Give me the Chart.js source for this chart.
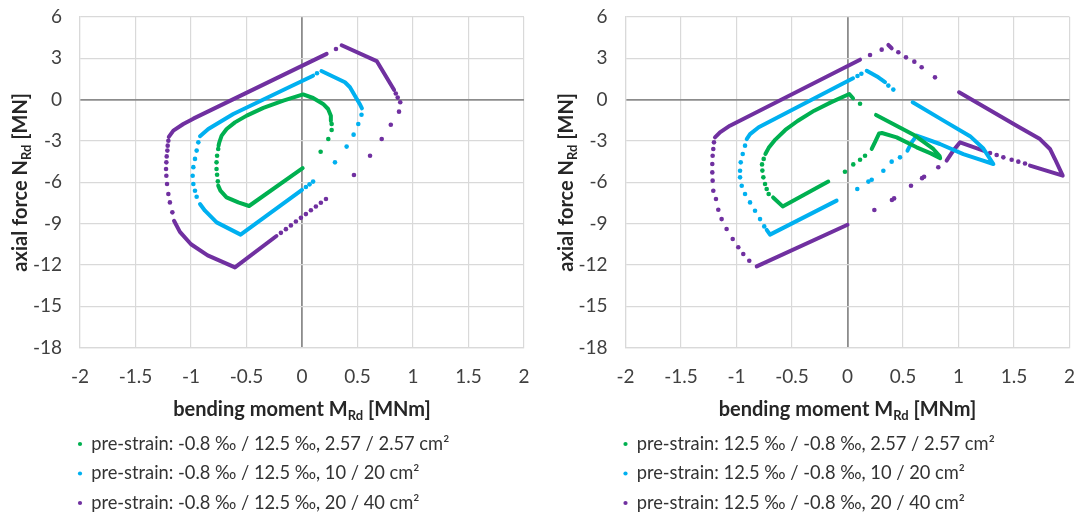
<!DOCTYPE html>
<html>
<head>
<meta charset="utf-8">
<script src="https://cdn.jsdelivr.net/npm/chart.js@4"></script>
<style>
  body { margin: 0; background: #fff; }
  #wrap { position: relative; width: 1078px; height: 516px; }
  .box { position: absolute; top: 0; height: 516px; }
</style>
</head>
<body>
<div id="wrap">
  <div class="box" style="left:0;width:540px"><canvas id="leftChart"></canvas></div>
  <div class="box" style="left:540px;width:538px"><canvas id="rightChart"></canvas></div>
</div>
<script>
// axes
const xMin = -2, xMax = 2, xStep = 0.5;
const yMin = -18, yMax = 6, yStep = 3;
const xTitle = ['bending moment M', 'Rd', ' [MNm]'];
const yTitle = ['axial force N', 'Rd', ' [MN]'];

const colors = ['#00B050', '#00B0F0', '#7030A0'];

const leftLabels = [
  'pre-strain: -0.8 ‰ / 12.5 ‰, 2.57 / 2.57 cm²',
  'pre-strain: -0.8 ‰ / 12.5 ‰, 10 / 20 cm²',
  'pre-strain: -0.8 ‰ / 12.5 ‰, 20 / 40 cm²'
];
const rightLabels = [
  'pre-strain: 12.5 ‰ / -0.8 ‰, 2.57 / 2.57 cm²',
  'pre-strain: 12.5 ‰ / -0.8 ‰, 10 / 20 cm²',
  'pre-strain: 12.5 ‰ / -0.8 ‰, 20 / 40 cm²'
];

// left chart: dense parts (read as runs of points) and single dots, [M, N]
const leftGreenRuns = [
  [[0.26,-1.55],[0.26,-1.17],[0.235,-0.68],[0.19,-0.31],[0.10,0.12],[0.01,0.38],[-0.168,-0.07],[-0.348,-0.6],[-0.498,-1.16],[-0.604,-1.65],[-0.679,-2.13],[-0.724,-2.61],[-0.745,-3.1],[-0.752,-3.35]],
  [[-0.755,-6.24],[-0.735,-6.6],[-0.68,-7.09],[-0.574,-7.46],[-0.477,-7.72],[0.006,-4.97]]
];
const leftGreenDots = [[-0.755,-3.58],[-0.765,-4.07],[-0.77,-4.55],[-0.77,-5.03],[-0.765,-5.45],[-0.758,-5.93],
  [0.267,-1.77],[0.267,-2.2],[0.237,-2.86],[0.168,-3.78]];

const leftBlueRuns = [
  [[0.54,-0.63],[0.52,-0.31],[0.432,0.9],[0.387,1.26],[0.175,2.08]],
  [[0.10,1.74],[-0.108,0.94],[-0.619,-1.04],[-0.844,-2.13],[-0.919,-2.65]],
  [[-0.919,-7.58],[-0.874,-8.06],[-0.769,-8.91],[-0.553,-9.8],[0.0,-6.55]]
];
const leftBlueDots = [[0.135,1.92],[-0.934,-3.1],[-0.949,-3.7],[-0.964,-4.3],[-0.979,-4.9],[-0.985,-5.52],[-0.979,-6.12],
  [-0.964,-6.61],[-0.949,-7.05],[0.035,-6.34],[0.068,-6.15],[0.10,-5.95],[0.536,-1.1],[0.507,-1.77],[0.465,-2.54],
  [0.402,-3.41],[0.297,-4.55]];

const leftPurpleRuns = [
  [[0.222,3.32],[-0.979,-1.38],[-1.069,-1.77],[-1.159,-2.25],[-1.2,-2.7]],
  [[0.357,3.95],[0.673,2.8],[0.83,0.7]],
  [[-1.153,-8.79],[-1.10,-9.6],[-1.0,-10.5],[-0.85,-11.3],[-0.604,-12.18],[-0.23,-9.9]]
];
const leftPurpleDots = [[0.306,3.68],[-1.204,-2.98],[-1.21,-3.34],[-1.213,-3.7],[-1.219,-4.12],[-1.222,-4.55],[-1.225,-5.03],
  [-1.222,-5.52],[-1.216,-6.12],[-1.204,-6.85],[-1.19,-7.46],[-1.168,-8.18],[0.845,0.45],[0.862,0.15],[0.885,-0.19],
  [0.874,-0.87],[0.80,-1.82],[0.718,-2.86],[0.613,-4.07],[0.468,-5.47],[-0.19,-9.67],[-0.145,-9.4],[-0.10,-9.13],
  [-0.055,-8.85],[-0.01,-8.58],[0.035,-8.31],[0.08,-8.03],[0.125,-7.76],[0.17,-7.49],[0.216,-7.21]];

// right chart
const rightGreenRuns = [
  [[0.05,0.1],[0.016,0.41],[-0.15,-0.2],[-0.3,-0.8],[-0.45,-1.55],[-0.56,-2.2],[-0.65,-2.9],[-0.71,-3.5],[-0.74,-3.95]],
  [[-0.67,-7.1],[-0.584,-7.75],[-0.173,-5.95]],
  [[0.257,-1.11],[0.608,-2.61],[0.773,-3.58],[0.83,-4.1],[0.835,-4.25],[0.75,-3.9],[0.623,-3.46],[0.443,-2.74],
   [0.31,-2.42],[0.285,-2.45],[0.25,-3.05],[0.218,-3.58]]
];
const rightGreenDots = [[0.113,-0.3],[0.158,-4.07],[0.113,-4.36],[0.052,-4.7],[-0.023,-5.23],[-0.755,-4.3],[-0.77,-4.7],
  [-0.767,-5.15],[-0.758,-5.64],[-0.743,-6.12],[-0.728,-6.49],[-0.71,-6.85]];

const rightBlueRuns = [
  [[0.05,1.55],[-0.80,-2.0],[-0.878,-2.5],[-0.908,-2.86]],
  [[0.173,2.1],[0.278,1.62],[0.338,1.28]],
  [[0.587,-0.19],[0.85,-1.45],[1.104,-2.65],[1.224,-3.55],[1.314,-4.67],[1.194,-4.36],[1.043,-3.95],[0.833,-3.22],
   [0.623,-2.61],[0.578,-3.1],[0.54,-3.7]],
  [[-0.728,-9.45],[-0.698,-9.8],[-0.098,-7.33]]
];
const rightBlueDots = [[0.09,1.72],[0.125,1.88],[0.368,1.02],[0.413,0.73],[-0.923,-3.34],[-0.944,-3.95],[-0.962,-4.55],
  [-0.968,-5.16],[-0.968,-5.64],[-0.953,-6.25],[-0.923,-6.85],[-0.878,-7.46],[-0.833,-8.06],[-0.788,-8.67],[-0.75,-9.2],
  [0.473,-4.19],[0.398,-4.5],[0.323,-5.16],[0.218,-5.81],[0.188,-5.95],[0.088,-6.49]];

const rightPurpleRuns = [
  [[0.113,2.9],[-1.059,-1.89],[-1.149,-2.37],[-1.194,-2.74]],
  [[0.368,3.97],[0.398,3.73]],
  [[1.005,0.53],[1.524,-1.9],[1.734,-2.86],[1.824,-3.58],[1.869,-4.31],[1.939,-5.52],[1.644,-4.79]],
  [[1.224,-3.7],[1.014,-3.1],[0.953,-3.7],[0.893,-4.43]],
  [[-0.818,-12.1],[0.0,-9.08]]
];
const rightPurpleDots = [[0.203,3.24],[0.308,3.63],[0.458,3.44],[0.527,3.07],[0.602,2.76],[0.668,2.35],[0.788,1.62],
  [1.284,-3.87],[1.344,-4.02],[1.404,-4.19],[1.479,-4.36],[1.539,-4.5],[1.599,-4.63],
  [-1.203,-3.1],[-1.209,-3.58],[-1.215,-4.07],[-1.218,-4.67],[-1.218,-5.28],[-1.215,-5.88],[-1.209,-6.61],[-1.185,-7.21],
  [-1.164,-7.99],[-1.134,-8.67],[-1.089,-9.39],[-1.034,-10.12],[-0.984,-10.72],[-0.939,-11.2],[-0.885,-11.69],
  [0.818,-4.91],[0.69,-5.6],[0.672,-5.7],[0.572,-6.25],[0.42,-7.17],[0.4,-7.28],[0.242,-8.01]];

const FONT = 'Lato, "Open Sans", sans-serif';
const LEGEND_SIZE = 18.3;

function toPoints(list) {
  return list.map(p => ({ x: p[0], y: p[1] }));
}

// runs joined with gaps so the line breaks between them
function joinRuns(runs) {
  const out = [];
  runs.forEach((run, i) => {
    if (i > 0) out.push({ x: run[0][0], y: null });
    run.forEach(p => out.push({ x: p[0], y: p[1] }));
  });
  return out;
}

function drawSub(ctx, parts, cx, y) {
  const big = 'bold 20px ' + FONT, small = 'bold 13px ' + FONT;
  ctx.font = big;
  const w0 = ctx.measureText(parts[0]).width, w2 = ctx.measureText(parts[2]).width;
  ctx.font = small;
  const w1 = ctx.measureText(parts[1]).width;
  let x = cx - (w0 + w1 + w2) / 2;
  ctx.textAlign = 'left';
  ctx.textBaseline = 'alphabetic';
  ctx.font = big; ctx.fillText(parts[0], x, y); x += w0;
  ctx.font = small; ctx.fillText(parts[1], x, y + 4); x += w1;
  ctx.font = big; ctx.fillText(parts[2], x, y);
}

const axisTitles = {
  id: 'axisTitles',
  afterDraw(chart) {
    const ctx = chart.ctx, a = chart.chartArea;
    ctx.save();
    ctx.fillStyle = '#262626';
    drawSub(ctx, xTitle, (a.left + a.right) / 2, 416);
    ctx.translate(a.left - 53, (a.top + a.bottom) / 2);
    ctx.rotate(-Math.PI / 2);
    drawSub(ctx, yTitle, 0, 0);
    ctx.restore();
  }
};

// put the legend rows under the plot, left aligned with the plot area
const legendPlace = {
  id: 'legendPlace',
  afterLayout(chart) {
    const lg = chart.legend;
    const pad = lg.options.labels.padding;
    const w = lg.right - lg.left;
    lg.left = chart.chartArea.left - 2 - pad;
    lg.right = lg.left + w;
    lg.top = 444 - pad - LEGEND_SIZE / 2;
    lg.bottom = lg.top + lg.height;
  }
};

function makeChart(canvasId, labels, runs, dots, yAxisWidth, padRight) {
  const datasets = [];
  for (let i = 0; i < 3; i++) {
    datasets.push({
      label: labels[i],
      data: toPoints(dots[i]),
      showLine: false,
      pointRadius: 2.3,
      pointBorderWidth: 0,
      backgroundColor: colors[i],
      borderColor: colors[i],
      pointStyle: 'circle'
    });
    datasets.push({
      label: '',
      data: joinRuns(runs[i]),
      showLine: true,
      spanGaps: false,
      pointRadius: 0,
      borderWidth: 4,
      borderColor: colors[i],
      backgroundColor: colors[i],
      borderCapStyle: 'round',
      borderJoinStyle: 'round',
      tension: 0
    });
  }
  const gridColor = c => c.tick && c.tick.value === 0 ? '#8c8c8c' : '#d9d9d9';
  const gridWidth = c => c.tick && c.tick.value === 0 ? 1.8 : 1.2;
  const ctx = document.getElementById(canvasId).getContext('2d');
  return new Chart(ctx, {
    type: 'scatter',
    data: { datasets: datasets },
    options: {
      responsive: true,
      maintainAspectRatio: false,
      animation: false,
      layout: { padding: { top: 17, right: padRight, left: 0, bottom: 0 } },
      plugins: {
        tooltip: { enabled: false },
        legend: {
          position: 'bottom',
          align: 'start',
          fullSize: false,
          labels: {
            usePointStyle: true,
            boxWidth: 4,
            boxHeight: 3,
            padding: 29.5 - LEGEND_SIZE,
            color: '#333',
            font: { family: FONT, size: LEGEND_SIZE },
            filter: item => item.text !== ''
          }
        }
      },
      scales: {
        x: {
          type: 'linear',
          min: xMin, max: xMax,
          ticks: {
            stepSize: xStep, padding: 18, color: '#404040',
            font: { family: FONT, size: 19 },
            callback: v => String(v)
          },
          grid: { drawTicks: false, color: gridColor, lineWidth: gridWidth },
          border: { color: '#d9d9d9', width: 1.2 },
          afterFit: s => { s.height = 69.9; s.paddingLeft = 0; s.paddingRight = 0; }
        },
        y: {
          type: 'linear',
          min: yMin, max: yMax,
          ticks: { stepSize: yStep, padding: 18, color: '#404040', font: { family: FONT, size: 19 } },
          grid: { drawTicks: false, color: gridColor, lineWidth: gridWidth },
          border: { color: '#d9d9d9', width: 1.2 },
          afterFit: s => { s.width = yAxisWidth; s.paddingTop = 0; s.paddingBottom = 0; }
        }
      }
    },
    plugins: [axisTitles, legendPlace]
  });
}

makeChart('leftChart', leftLabels,
  [leftGreenRuns, leftBlueRuns, leftPurpleRuns],
  [leftGreenDots, leftBlueDots, leftPurpleDots], 80, 16);
makeChart('rightChart', rightLabels,
  [rightGreenRuns, rightBlueRuns, rightPurpleRuns],
  [rightGreenDots, rightBlueDots, rightPurpleDots], 85.5, 8.5);
</script>
</body>
</html>
